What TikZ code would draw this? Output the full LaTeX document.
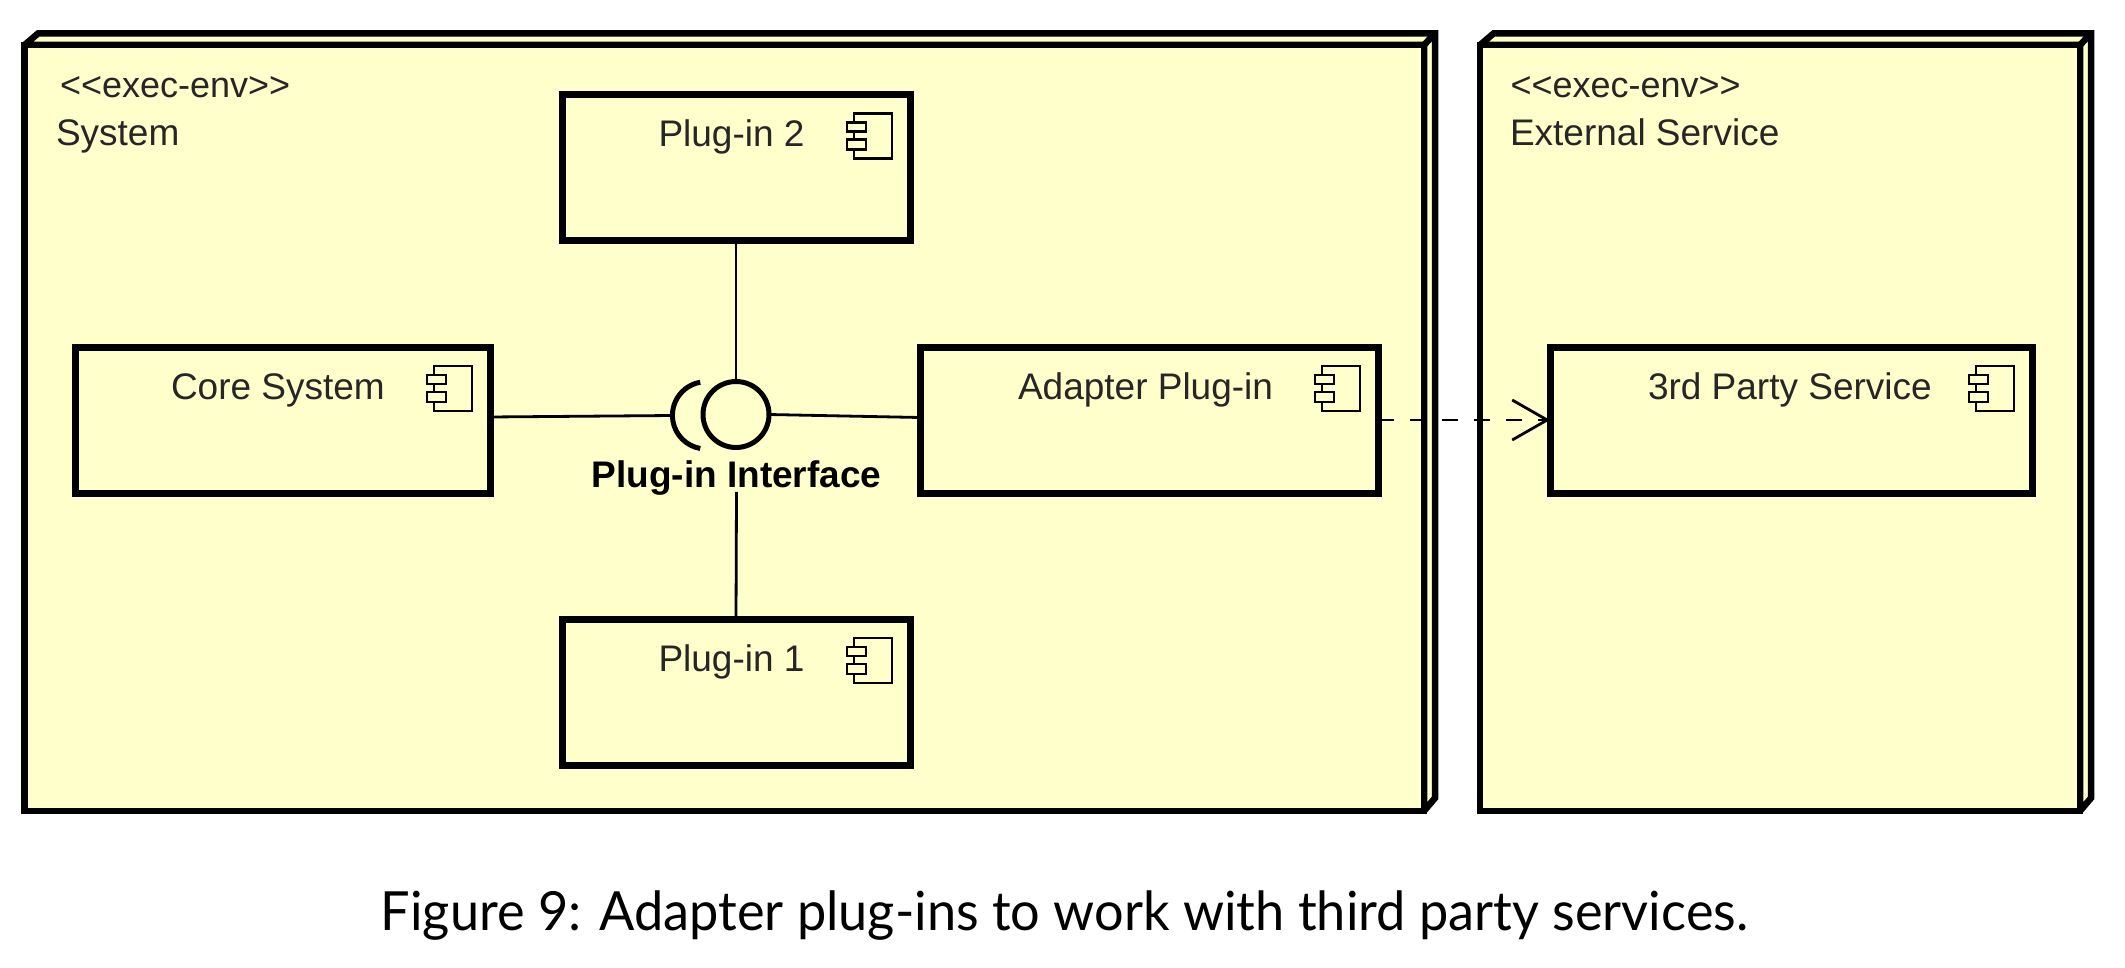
\documentclass[tikz,border=0pt]{standalone}
\usepackage{fontspec}
\setmainfont{Liberation Sans}
\newfontfamily\capfont[FakeStretch=0.968]{Lato}
\usetikzlibrary{arrows.meta}
\definecolor{nodefill}{HTML}{FFFFCB}
\definecolor{ink}{HTML}{262626}
\tikzset{
  x=1pt,y=-1pt,
  envfront/.style={draw=black,fill=nodefill,line width=6.5pt,outer sep=0pt,inner sep=0pt,anchor=north west},
  envdepth/.style={draw=black,fill=nodefill,line width=6.5pt,line join=miter,miter limit=1.5},
  compbox/.style={draw=black,fill=nodefill,line width=7pt,outer sep=0pt,inner sep=0pt,anchor=north west,minimum height=146pt},
  lbl/.style={inner sep=0pt,outer sep=0pt,anchor=base west,text=ink,font=\fontsize{37}{40}\selectfont},
  stereo/.style={lbl,font=\fontsize{36}{38}\selectfont},
  wire/.style={draw=black,line width=2.8pt},
  icon/.style={draw=black,fill=nodefill,line width=2.2pt},
  dep/.style={draw=black,line width=2.8pt,dash pattern=on 16pt off 16pt,-{Straight Barb[length=35pt,width=40pt,line width=2.8pt]}},
}
\newcommand{\compicon}[1]{%
  \draw[icon] ([shift={(-56,19)}]#1.north east) rectangle ([shift={(-18,64)}]#1.north east);
  \draw[icon] ([shift={(-63,28)}]#1.north east) rectangle ([shift={(-44,37)}]#1.north east);
  \draw[icon] ([shift={(-63,45)}]#1.north east) rectangle ([shift={(-44,55)}]#1.north east);
}
\begin{document}
\begin{tikzpicture}
\useasboundingbox (0,0) rectangle (2125,968);
\fill[white] (0,0) rectangle (2125,968);

% execution environments
\draw[envdepth] (24.5,45) -- (38,33.5) -- (1435,33.5) -- (1435,798) -- (1424,811) -- (1424,45) -- cycle;
\node[envfront,minimum width=1399.5pt,minimum height=766pt] (system) at (24.5,45) {};
\draw[envdepth,fill=none] (system.north east) -- (1435,33.5);
\draw[envdepth] (1480,45) -- (1493.5,33.5) -- (2091,33.5) -- (2091,798) -- (2080,811) -- (2080,45) -- cycle;
\node[envfront,minimum width=600pt,minimum height=766pt] (external) at (1480,45) {};
\draw[envdepth,fill=none] (external.north east) -- (2091,33.5);

\node[stereo] (t1) at (60,98) {<{}<exec-env>{}>};
\node[lbl] (t2) at (56,146) {System};
\node[stereo] (t3) at (1510.5,98) {<{}<exec-env>{}>};
\node[lbl] (t4) at (1510,146) {External Service};

% components
\node[compbox,minimum width=415pt] (core) at (75,347) {};
\node[compbox,minimum width=348pt] (plugtwo) at (562,94.5) {};
\node[compbox,minimum width=348pt] (plugone) at (562,619) {};
\node[compbox,minimum width=458pt] (adapter) at (920,347) {};
\node[compbox,minimum width=482pt] (third) at (1550,347) {};

\node[lbl] (l1) at (171,399.5) {Core System};
\node[lbl] (l2) at (658.5,147) {Plug-in 2};
\node[lbl] (l3) at (658.5,671.5) {Plug-in 1};
\node[lbl] (l4) at (1018,399.5) {Adapter Plug-in};
\node[lbl] (l5) at (1648,399.5) {3rd Party Service};

\compicon{core}
\compicon{plugtwo}
\compicon{plugone}
\compicon{adapter}
\compicon{third}

% interface
\node[circle,draw=black,line width=5pt,minimum size=66pt,inner sep=0pt,outer sep=0pt] (iface) at (736,414.5) {};
\coordinate (sockw) at (672.7,415.5);
\draw[line width=5pt,draw=black] (700.2,382.3) arc[start angle=-100,end angle=-260,radius=33.6];
\node[lbl,anchor=base,font=\bfseries\fontsize{37}{40}\selectfont,text=black] (ifacelabel) at (736.5,487) {Plug-in Interface};

% connectors
\draw[wire] ([yshift=3pt]core.east) -- (sockw);
\draw[wire] ([yshift=2.5pt]adapter.west) -- (iface.east);
\draw[wire] (plugtwo.south) -- (iface.north);
\draw[wire] (plugone.north) -- ([yshift=3pt]ifacelabel.south);
\draw[dep] (adapter.east) -- (third.west);

% caption
\node[inner sep=0pt,anchor=base,text=black,font=\capfont\fontsize{54}{60}\selectfont] (caption) at (1064.5,930) {Figure 9: Adapter plug-ins to work with third party services.};
\end{tikzpicture}
\end{document}
